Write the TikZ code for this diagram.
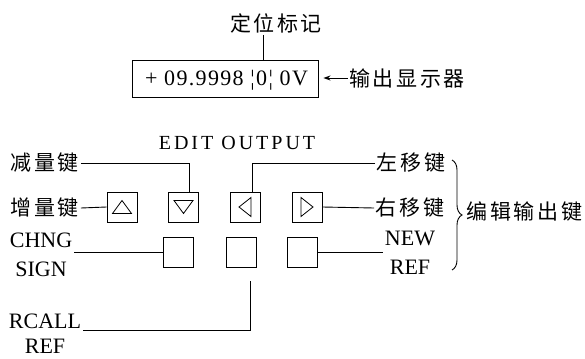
\documentclass[tikz,border=0pt]{standalone}
\usepackage{fontspec}
\setmainfont{Liberation Serif}
\newfontfamily\cjk[LetterSpace=12]{Noto Sans CJK SC}
\newfontfamily\spaced[LetterSpace=15]{Liberation Serif}
\newfontfamily\dispfont[LetterSpace=6]{Liberation Serif}
\usetikzlibrary{arrows.meta,decorations.pathreplacing}
\begin{document}
\begin{tikzpicture}[x=1pt,y=-1pt,line width=0.9pt,
  lat/.style={font=\fontsize{22}{26}\selectfont,inner sep=1.5pt},
  zh/.style={font=\cjk\fontsize{21}{25}\selectfont,inner sep=1.5pt},
  keybox/.style={draw,minimum size=30pt,inner sep=0pt},
  tri/.style={line width=0.8pt,line join=miter}]
\useasboundingbox[fill=white] (0,0) rectangle (585,358);

% display
\node[zh] (dw) at (276,23) {定位标记};
\node[draw,minimum width=186pt,minimum height=37pt,inner sep=0pt] (disp) at (225,78.5) {};
\node[font=\dispfont\fontsize{22}{26}\selectfont,inner sep=0pt] (dtxt) at (226.5,80) {+ 09.9998 ¦0¦ 0V};
\coordinate (mk) at (263,35);
\draw (mk) -- (mk |- disp.north);
\node[zh] (out) at (407,78) {输出显示器};
\draw[-{Stealth[length=7pt,width=5pt]}] (out.west) -- ([xshift=5pt]disp.east |- out.west);

% keypad
\node[lat,font=\spaced\fontsize{20}{24}\selectfont] (edit) at (237,143) {EDIT OUTPUT};
\node[keybox] (b1) at (122,207) {};
\node[keybox] (b2) at (183.5,207) {};
\node[keybox] (b3) at (245,207) {};
\node[keybox] (b4) at (307,207) {};
\node[keybox] (c1) at (178.5,252) {};
\node[keybox] (c2) at (241,252) {};
\node[keybox] (c3) at (302,252) {};

\draw[tri,shift={(b1.center)}] (-9.5,6.5) -- (9.5,6.5) -- (0,-6.5) -- cycle;
\draw[tri,shift={(b2.center)}] (-9.5,-6.5) -- (9.5,-6.5) -- (0,6.5) -- cycle;
\draw[tri,shift={(b3.center)}] (6,-9.5) -- (6,9.5) -- (-6,0) -- cycle;
\draw[tri,shift={(b4.center)}] (-6,-9.5) -- (-6,9.5) -- (6,0) -- cycle;

\node[zh] (jian) at (45,163) {减量键};
\node[zh] (zeng) at (45,208) {增量键};
\node[zh] (zuo) at (411,163) {左移键};
\node[zh] (you) at (410,208) {右移键};

\draw (jian.east) -| ([xshift=6pt]b2.north);
\draw (zuo.west) -| ([xshift=7pt]b3.north);
\draw (zeng.east) -- (b1.west);
\draw (b4.east) -- (you.west);

\node[lat,align=center,font=\fontsize{22}{29}\selectfont] (chng) at (41,255) {CHNG\\SIGN};
\draw (chng.east |- c1.west) -- (c1.west);
\node[lat,align=center,font=\fontsize{22}{29}\selectfont] (new) at (410,253) {NEW\\REF};
\draw (c3.east) -- (c3.east -| new.west);

\node[lat,align=center,font=\fontsize{22}{25}\selectfont] (rcall) at (45,334) {RCALL\\REF};
\coordinate (rc) at (250,330);
\coordinate (rtop) at (250,281);
\draw (rcall.east |- rc) -- (rc) -- (rtop);

% brace
\coordinate (brt) at (452,160);
\coordinate (brb) at (452,270);
\draw[decorate,decoration={brace,amplitude=10pt}] (brt) -- (brb);
\node[zh,anchor=west] (bj) at (465,212) {编辑输出键};
\end{tikzpicture}
\end{document}
